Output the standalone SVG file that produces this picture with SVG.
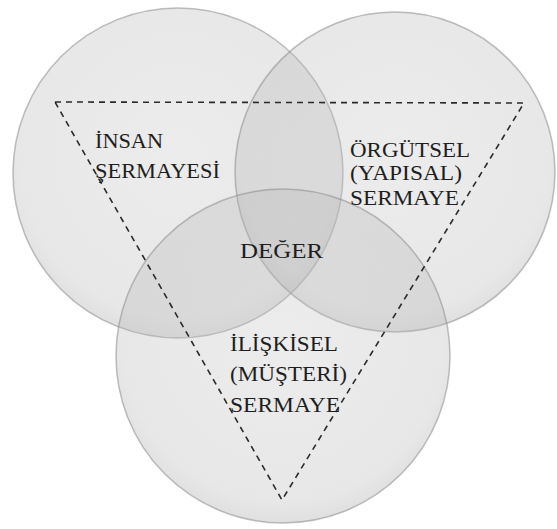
<svg xmlns="http://www.w3.org/2000/svg" width="557" height="529" viewBox="0 0 557 529">
<defs>
<radialGradient id="sph" cx="0.5" cy="0.45" r="0.55">
<stop offset="0" stop-color="#c4c4c4"/>
<stop offset="0.88" stop-color="#b6b6b6"/>
<stop offset="1" stop-color="#9e9e9e"/>
</radialGradient>
<style>
.c{fill:url(#sph);fill-opacity:0.32;stroke:#8a8a8a;stroke-opacity:0.55;stroke-width:1.5}
.t{font-family:"Liberation Serif","Times New Roman",serif;font-size:22px;fill:#1e1e1e}
.tri{fill:none;stroke:#2a2a2a;stroke-width:1.6;stroke-dasharray:6 5}
</style>
</defs>
<rect width="557" height="529" fill="#ffffff"/>
<g id="insan">
<circle class="c" cx="178" cy="173" r="165"/>
</g>
<g id="orgutsel">
<circle class="c" cx="395" cy="172" r="160"/>
</g>
<g id="iliskisel">
<circle class="c" cx="283" cy="356" r="167"/>
</g>
<g id="connectors">
<polygon class="tri" points="55,102 524,103 282,500"/>
</g>
<g id="labels">
<text class="t" x="95" y="148" textLength="68" lengthAdjust="spacingAndGlyphs">İNSAN</text>
<text class="t" x="95" y="178" textLength="125" lengthAdjust="spacingAndGlyphs">ŞERMAYESİ</text>
<text class="t" x="350" y="157" textLength="120" lengthAdjust="spacingAndGlyphs">ÖRGÜTSEL</text>
<text class="t" x="350" y="180" textLength="112" lengthAdjust="spacingAndGlyphs">(YAPISAL)</text>
<text class="t" x="350" y="205" textLength="109" lengthAdjust="spacingAndGlyphs">SERMAYE</text>
<text class="t" x="240" y="258" textLength="83" lengthAdjust="spacingAndGlyphs">DEĞER</text>
<text class="t" x="230" y="351" textLength="108" lengthAdjust="spacingAndGlyphs">İLİŞKİSEL</text>
<text class="t" x="230" y="381" textLength="117" lengthAdjust="spacingAndGlyphs">(MÜŞTERİ)</text>
<text class="t" x="230" y="412" textLength="110" lengthAdjust="spacingAndGlyphs">SERMAYE</text>
</g>
</svg>
